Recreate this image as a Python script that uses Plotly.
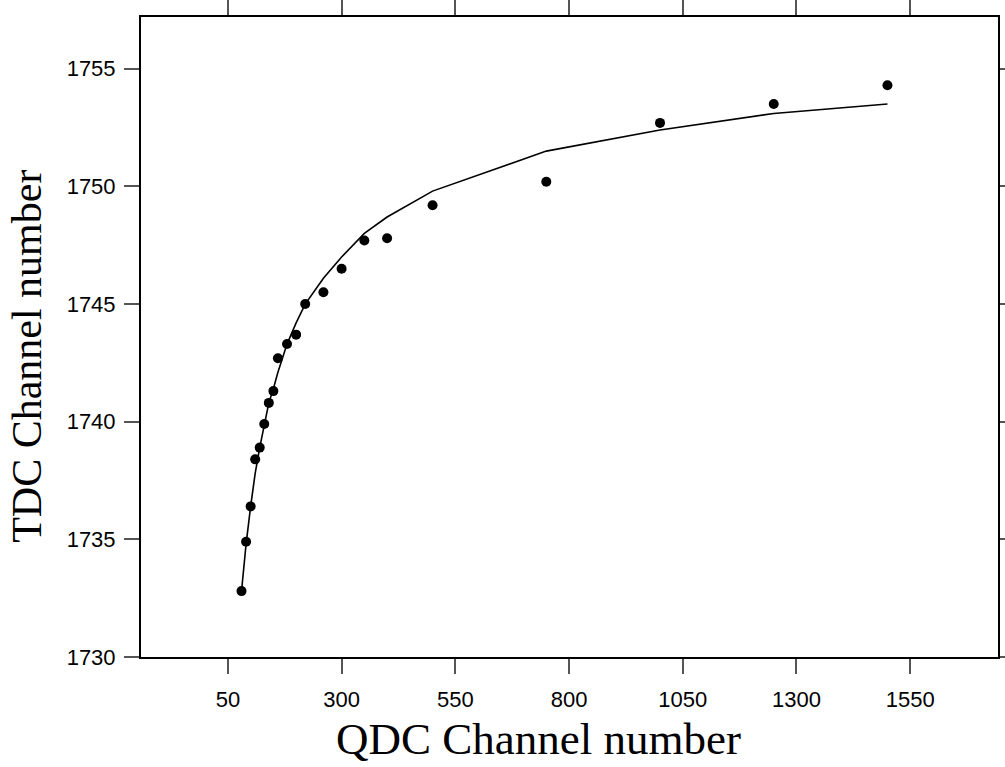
import plotly.graph_objects as go

qdc = [80, 90, 100, 110, 120, 130, 140, 150, 160, 180, 200, 220, 260, 300, 350, 400, 500, 750, 1000, 1250, 1500]
tdc_measured = [1732.8, 1734.9, 1736.4, 1738.4, 1738.9, 1739.9, 1740.8, 1741.3, 1742.7, 1743.3, 1743.7,
                1745.0, 1745.5, 1746.5, 1747.7, 1747.8, 1749.2, 1750.2, 1752.7, 1753.5, 1754.3]
tdc_fit = [1732.8, 1734.8, 1736.4, 1737.8, 1738.9, 1739.9, 1740.8, 1741.4, 1742.1, 1743.3, 1744.2,
           1745.0, 1746.1, 1747.0, 1748.0, 1748.7, 1749.8, 1751.5, 1752.4, 1753.1, 1753.5]
x_ticks = [50, 300, 550, 800, 1050, 1300, 1550]
y_ticks = [1730, 1735, 1740, 1745, 1750, 1755]

fig = go.Figure()
fig.add_trace(go.Scatter(x=qdc, y=tdc_fit, mode="lines",
                         line=dict(color="black", width=1.6), showlegend=False))
fig.add_trace(go.Scatter(x=qdc, y=tdc_measured, mode="markers",
                         marker=dict(color="black", size=10), showlegend=False))

axis_common = dict(showline=True, linecolor="black", linewidth=2, mirror="ticks",
                   ticks="outside", ticklen=15, tickwidth=1.5, tickcolor="#555555",
                   showgrid=False, zeroline=False, automargin=False,
                   tickfont=dict(family="Liberation Sans, Arial", size=22, color="black"))

fig.update_xaxes(range=[-141, 1743], tickvals=x_ticks, ticktext=[str(v) for v in x_ticks],
                 ticklabelstandoff=7, **axis_common)
fig.update_yaxes(range=[1730, 1757.2], tickvals=y_ticks, ticktext=[str(v) for v in y_ticks],
                 ticklabelstandoff=4, **axis_common)

fig.add_annotation(text="QDC Channel number", xref="paper", yref="paper",
                   x=0.464, y=-0.128, xanchor="center", yanchor="middle", showarrow=False,
                   font=dict(family="Liberation Serif, Times New Roman", size=45, color="black"))
fig.add_annotation(text="TDC Channel number", xref="paper", yref="paper",
                   x=-0.133, y=0.469, xanchor="center", yanchor="middle", showarrow=False,
                   textangle=-90,
                   font=dict(family="Liberation Serif, Times New Roman", size=42, color="black"))

fig.update_layout(width=1005, height=767, plot_bgcolor="white", paper_bgcolor="white",
                  margin=dict(l=141, r=7, t=17, b=110, autoexpand=False))

fig.write_html("out.html", config={"displayModeBar": False},
               post_script="document.body.style.margin='0';document.body.style.overflow='hidden';")
